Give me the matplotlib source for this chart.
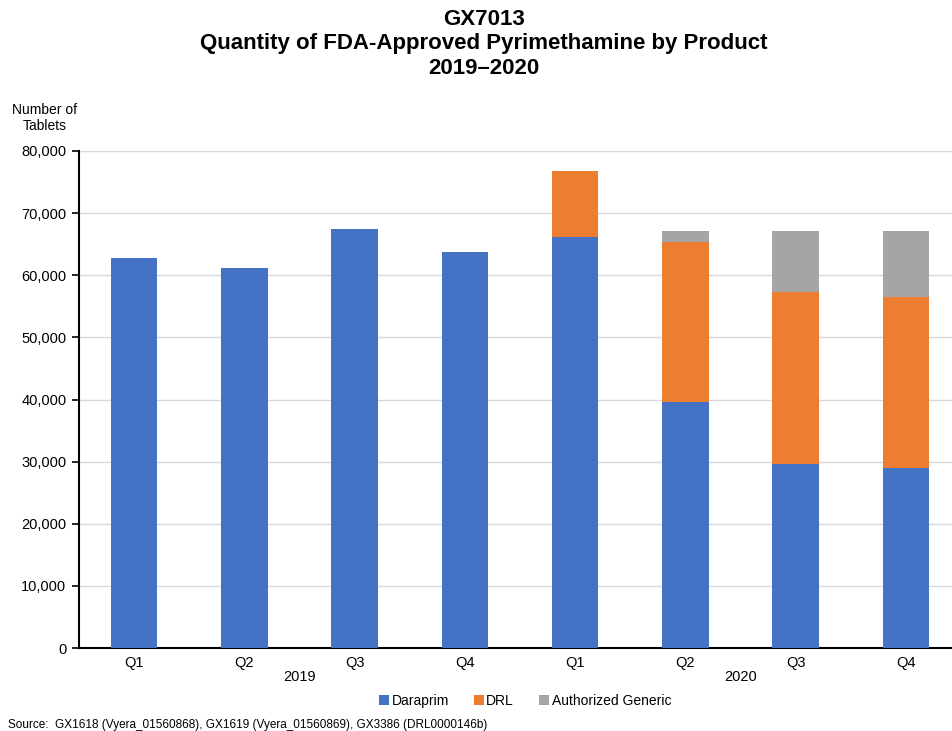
import matplotlib
matplotlib.use("Agg")
import matplotlib.pyplot as plt
import matplotlib.transforms as mtransforms
import numpy as np

plt.rcParams['font.family'] = ['Liberation Sans', 'DejaVu Sans']

quarters = ["Q1", "Q2", "Q3", "Q4", "Q1", "Q2", "Q3", "Q4"]
years = ["2019", "2020"]
daraprim = [62800, 61200, 67400, 63700, 66200, 39600, 29600, 29000]
drl = [0, 0, 0, 0, 10600, 25750, 27700, 27500]
auth_generic = [0, 0, 0, 0, 0, 1770, 9800, 10600]

colors = {"Daraprim": "#4472C4", "DRL": "#ED7D31", "Authorized Generic": "#A5A5A5"}

fig = plt.figure(figsize=(9.52, 7.31), dpi=100)
ax = fig.add_axes([79/952, 1-648/731, 882/952, (648-151)/731])

x = np.arange(len(quarters))
w = 0.42
d = np.array(daraprim); r = np.array(drl); g = np.array(auth_generic)
ax.bar(x, d, w, color=colors["Daraprim"], label="Daraprim", zorder=3)
ax.bar(x, r, w, bottom=d, color=colors["DRL"], label="DRL", zorder=3)
ax.bar(x, g, w, bottom=d + r, color=colors["Authorized Generic"], label="Authorized Generic", zorder=3)

ax.set_xlim(-0.5, 7.5)
ax.set_ylim(0, 80000)
ax.set_yticks(np.arange(0, 80001, 10000))
ax.set_yticklabels([f"{v:,}" for v in range(0, 80001, 10000)], fontsize=10.5)
ax.yaxis.grid(True, color="#D9D9D9", linewidth=1, zorder=0)
ax.set_axisbelow(True)
ax.set_xticks(x)
ax.set_xticklabels(quarters, fontsize=10.5)
ax.tick_params(axis='x', length=0, pad=6)
ax.tick_params(axis='y', length=5, width=1.2, direction='out', pad=4)
for s in ["top", "right"]:
    ax.spines[s].set_visible(False)
ax.spines["left"].set_linewidth(1.5)
ax.spines["bottom"].set_linewidth(1.5)

trans = mtransforms.blended_transform_factory(ax.transData, fig.transFigure)
ax.text(1.5, 1-677/731, years[0], transform=trans, ha="center", va="center", fontsize=10.5)
ax.text(5.5, 1-677/731, years[1], transform=trans, ha="center", va="center", fontsize=10.5)

fig.text(45/952, 1-118/731, "Number of\nTablets", ha="center", va="center", fontsize=10, linespacing=1.1)

fig.text(484/952, 1-44/731, "GX7013\nQuantity of FDA-Approved Pyrimethamine by Product\n2019\u20132020",
         ha="center", va="center", fontsize=16, fontweight="bold", linespacing=1.2)

fig.legend(loc="center", bbox_to_anchor=(525/952, 1-701/731), ncol=3, frameon=False, fontsize=10,
           handlelength=0.7, handleheight=0.7, handletextpad=0.2, columnspacing=1.8)

fig.text(8/952, 1-725/731, "Source:  GX1618 (Vyera_01560868), GX1619 (Vyera_01560869), GX3386 (DRL0000146b)",
         ha="left", va="center", fontsize=8.5)

fig.savefig("out.png", dpi=100)
